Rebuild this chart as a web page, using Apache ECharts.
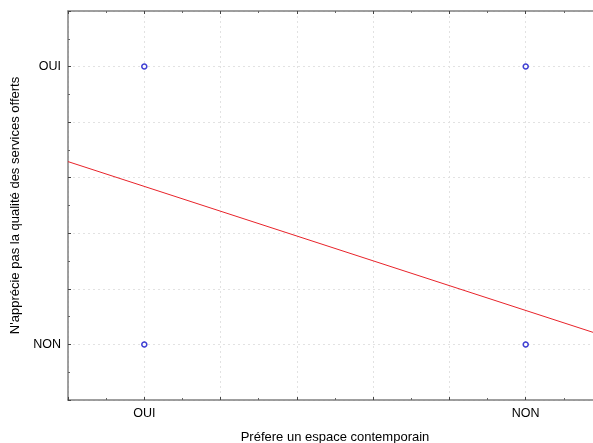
<!DOCTYPE html>
<html>
<head>
<meta charset="utf-8">
<script src="https://cdn.jsdelivr.net/npm/echarts@6/dist/echarts.min.js"></script>
<style>html,body{margin:0;padding:0;background:#fff}#c{width:593px;height:443px}</style>
</head>
<body>
<div id="c"></div>
<script>
// Data
var xCategoryLabels = ['OUI', 'NON'];          // coded 0, 1 on x
var yCategoryLabels = ['NON', 'OUI'];          // coded 0, 1 on y
var pointsX = [0, 1, 0, 1];
var pointsY = [1, 1, 0, 0];
var fitX = [-0.2, 1.2];
var fitY = [0.658, 0.033];

var chart = echarts.init(document.getElementById('c'));
var font = 'Liberation Sans, Arial, sans-serif';
var axisCol = '#808080';
function xFmt(v){ var i = Math.round(v*1000)/1000; return (i===0||i===1) ? xCategoryLabels[i] : ''; }
function yFmt(v){ var i = Math.round(v*1000)/1000; return (i===0||i===1) ? yCategoryLabels[i] : ''; }
var commonTick = {show:true, inside:true, length:3, lineStyle:{color:'#444'}};
var minor = {show:true, splitNumber:2, length:2, lineStyle:{color:'#666'}};
var split = {show:true, lineStyle:{color:'#e2e2e2', type:[2,3], width:1}};

chart.setOption({
  animation:false,
  backgroundColor:'#fff',
  grid:{left:68, top:11, width:534, height:389, containLabel:false, outerBoundsMode:'none'},
  xAxis:[{
    type:'value', min:-0.2, max:1.2, interval:0.2,
    axisLine:{show:true, onZero:false, lineStyle:{color:axisCol, width:1.5}},
    axisTick:commonTick, minorTick:minor, splitLine:split,
    axisLabel:{formatter:xFmt, color:'#000', fontFamily:font, fontSize:12.5, margin:7},
    name:'Préfere un espace contemporain', nameLocation:'middle', nameGap:31,
    nameTextStyle:{color:'#000', fontFamily:font, fontSize:13}
  },{
    type:'value', position:'top', min:-0.2, max:1.2, interval:0.2,
    axisLine:{show:true, onZero:false, lineStyle:{color:axisCol, width:1.5}},
    axisTick:commonTick, minorTick:minor, splitLine:{show:false},
    axisLabel:{show:false}
  }],
  yAxis:[{
    type:'value', min:-0.2, max:1.2, interval:0.2,
    axisLine:{show:true, onZero:false, lineStyle:{color:axisCol, width:1.5}},
    axisTick:commonTick, minorTick:minor, splitLine:split,
    axisLabel:{formatter:yFmt, color:'#000', fontFamily:font, fontSize:12.5, margin:7},
    name:"N'apprécie pas la qualité des services offerts", nameLocation:'middle', nameGap:45,
    nameTextStyle:{color:'#000', fontFamily:font, fontSize:13}
  }],
  series:[{
    type:'line', data:fitX.map(function(x,i){return [x, fitY[i]];}),
    symbol:'none', lineStyle:{color:'#e8232a', width:1}, silent:true, z:2
  },{
    type:'scatter', data:pointsX.map(function(x,i){return [x, pointsY[i]];}),
    symbol:'circle', symbolSize:5,
    itemStyle:{color:'#fff', borderColor:'#1010c8', borderWidth:1.5}, z:3
  }]
});
</script>
</body>
</html>
